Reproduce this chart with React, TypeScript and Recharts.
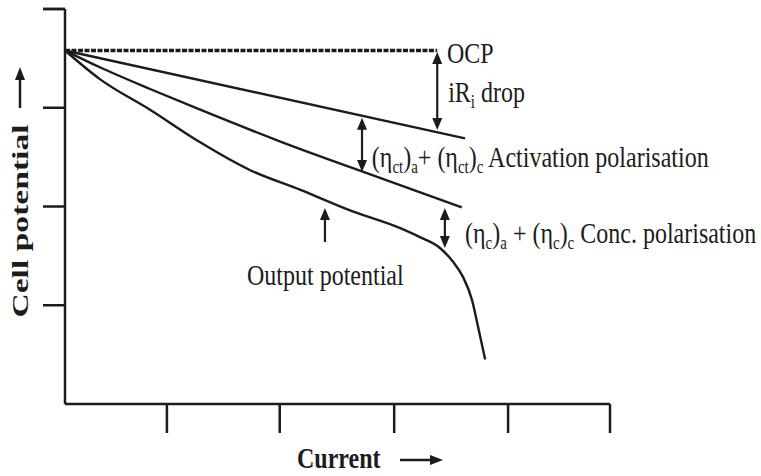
import { LineChart, Line, XAxis, YAxis, ReferenceLine, ReferenceDot } from 'recharts';

// x = current (arbitrary units 0-10), y = cell potential (arbitrary units 0-4)
const ocpLine = [
  { x: 0, y: 3.58 },
  { x: 6.83, y: 3.58 },
];
const irDropLine = [
  { x: 0, y: 3.58 },
  { x: 7.34, y: 2.69 },
];
const activationLine = [
  { x: 0, y: 3.58 },
  { x: 0.64, y: 3.41 },
  { x: 1.56, y: 3.19 },
  { x: 2.48, y: 2.98 },
  { x: 3.94, y: 2.66 },
  { x: 5.78, y: 2.29 },
  { x: 7.28, y: 1.99 },
];
const outputLine = [
  { x: 0, y: 3.58 },
  { x: 0.64, y: 3.29 },
  { x: 1.56, y: 2.98 },
  { x: 2.48, y: 2.65 },
  { x: 3.39, y: 2.37 },
  { x: 4.31, y: 2.17 },
  { x: 5.23, y: 1.96 },
  { x: 6.15, y: 1.78 },
  { x: 6.51, y: 1.69 },
  { x: 6.88, y: 1.58 },
  { x: 7.12, y: 1.44 },
  { x: 7.3, y: 1.29 },
  { x: 7.47, y: 1.05 },
  { x: 7.58, y: 0.78 },
  { x: 7.71, y: 0.45 },
];

const xTicks = [1.87, 3.94, 6.04, 8.13, 10];
const yTicks = [1, 2, 3, 4];
const yMax = 4;

// vertical arrows between curves
const arrows = [
  { x: 6.83, top: 3.565, bottom: 2.775, both: true },
  { x: 5.45, top: 2.9, bottom: 2.35, both: true },
  { x: 4.77, top: 1.985, bottom: 1.64, both: false },
  { x: 6.97, top: 1.985, bottom: 1.58, both: true },
];

// [text, isSubscript]
type Part = [string, boolean?];
const labels: { x: number; y: number; parts: Part[] }[] = [
  { x: 7.01, y: 3.45, parts: [['OCP']] },
  { x: 7.03, y: 3.06, parts: [['iR'], ['i', true], [' drop']] },
  {
    x: 5.63,
    y: 2.4,
    parts: [['(η'], ['ct', true], [')'], ['a', true], ['+ (η'], ['ct', true], [')'], ['c', true], [' Activation polarisation']],
  },
  {
    x: 7.34,
    y: 1.63,
    parts: [['(η'], ['c', true], [')'], ['a', true], [' + (η'], ['c', true], [')'], ['c', true], [' Conc. polarisation']],
  },
  { x: 3.34, y: 1.205, parts: [['Output potential']] },
];

const INK = '#1c1c1c';
const SERIF = '"Liberation Serif", "Times New Roman", serif';

function RichText({ x, y, parts }: { x: number; y: number; parts: Part[] }) {
  let shift = 0;
  const spans = parts.map(([t, sub], i) => {
    const target = sub ? 5 : 0;
    const dy = target - shift;
    shift = target;
    return (
      <tspan key={i} dy={dy} fontSize={sub ? 15 : 24}>
        {t}
      </tspan>
    );
  });
  return (
    <text
      transform={`translate(${x},${y}) scale(1,1.2)`}
      fontFamily={SERIF}
      fill={INK}
      style={{ whiteSpace: 'pre' }}
    >
      {spans}
    </text>
  );
}

const arrowShape = (both: boolean) => (p: any) => {
  const { x1, y1, y2 } = p;
  const top = Math.min(y1, y2);
  const bot = Math.max(y1, y2);
  const hw = 5;
  const hl = 12;
  return (
    <g>
      <line x1={x1} x2={x1} y1={top + hl - 2} y2={both ? bot - hl + 2 : bot} stroke={INK} strokeWidth={2.2} />
      <polygon points={`${x1},${top} ${x1 - hw},${top + hl} ${x1 + hw},${top + hl}`} fill={INK} />
      {both && <polygon points={`${x1},${bot} ${x1 - hw},${bot - hl} ${x1 + hw},${bot - hl}`} fill={INK} />}
    </g>
  );
};

const yAxisLabel = (p: any) => {
  const { x, y, width } = p.viewBox;
  const bx = x + 3;
  const cy = y + 212;
  const axisX = x + width;
  return (
    <g>
      {/* top tick at the end of the axis */}
      <line x1={axisX - 22} x2={axisX} y1={y} y2={y} stroke={INK} strokeWidth={2.5} />
      <text
        transform={`translate(${bx},${cy}) rotate(-90) scale(1.4,1)`}
        textAnchor="middle"
        fontFamily={SERIF}
        fontWeight="bold"
        fontSize={24}
        fill={INK}
      >
        Cell potential
      </text>
      <line x1={bx - 8} x2={bx - 8} y1={y + 99} y2={y + 70} stroke={INK} strokeWidth={2.5} />
      <polygon points={`${bx - 8},${y + 58} ${bx - 13},${y + 71} ${bx - 3},${y + 71}`} fill={INK} />
    </g>
  );
};

const xAxisLabel = (p: any) => {
  const { x, y } = p.viewBox;
  const tx = x + 232;
  const by = y + 64;
  return (
    <g>
      <text
        transform={`translate(${tx},${by}) scale(1,1.2)`}
        fontFamily={SERIF}
        fontWeight="bold"
        fontSize={24}
        fill={INK}
      >
        Current
      </text>
      <line x1={tx + 103} x2={tx + 135} y1={by - 8} y2={by - 8} stroke={INK} strokeWidth={2.5} />
      <polygon points={`${tx + 146},${by - 8} ${tx + 133},${by - 13} ${tx + 133},${by - 3}`} fill={INK} />
    </g>
  );
};

export default function App() {
  return (
    <div style={{ width: 761, height: 476, background: '#fff' }}>
      <style>{'body{margin:0;}'}</style>
      <LineChart
        width={761}
        height={476}
        margin={{ top: 9, right: 151, bottom: 32, left: 25 }}
        style={{ fontFamily: SERIF }}
      >
        <XAxis
          type="number"
          dataKey="x"
          domain={[0, 10]}
          ticks={xTicks}
          interval={0}
          tick={() => <g />}
          tickSize={29}
          height={40}
          axisLine={{ stroke: INK, strokeWidth: 2.5 }}
          tickLine={{ stroke: INK, strokeWidth: 2.5 }}
          label={xAxisLabel}
        />
        <YAxis
          type="number"
          dataKey="y"
          domain={[0, yMax]}
          ticks={yTicks}
          interval={0}
          tick={() => <g />}
          tickSize={22}
          width={40}
          axisLine={{ stroke: INK, strokeWidth: 2.5 }}
          tickLine={{ stroke: INK, strokeWidth: 2.5 }}
          label={yAxisLabel}
        />
        <Line
          data={ocpLine}
          dataKey="y"
          type="linear"
          stroke={INK}
          strokeWidth={3.5}
          strokeDasharray="5 1.5"
          dot={false}
          activeDot={false}
          isAnimationActive={false}
        />
        <Line
          data={irDropLine}
          dataKey="y"
          type="linear"
          stroke={INK}
          strokeWidth={2.4}
          dot={false}
          activeDot={false}
          isAnimationActive={false}
        />
        <Line
          data={activationLine}
          dataKey="y"
          type="monotone"
          stroke={INK}
          strokeWidth={2.4}
          dot={false}
          activeDot={false}
          isAnimationActive={false}
        />
        <Line
          data={outputLine}
          dataKey="y"
          type="monotone"
          stroke={INK}
          strokeWidth={2.4}
          dot={false}
          activeDot={false}
          isAnimationActive={false}
        />
        {arrows.map((a, i) => (
          <ReferenceLine
            key={`arrow-${i}`}
            segment={[
              { x: a.x, y: a.top },
              { x: a.x, y: a.bottom },
            ]}
            shape={arrowShape(a.both)}
          />
        ))}
        {labels.map((l, i) => (
          <ReferenceDot
            key={`label-${i}`}
            x={l.x}
            y={l.y}
            r={0}
            stroke="none"
            fill="none"
            label={(p: any) => <RichText x={p.viewBox.x} y={p.viewBox.y} parts={l.parts} />}
          />
        ))}
      </LineChart>
    </div>
  );
}
